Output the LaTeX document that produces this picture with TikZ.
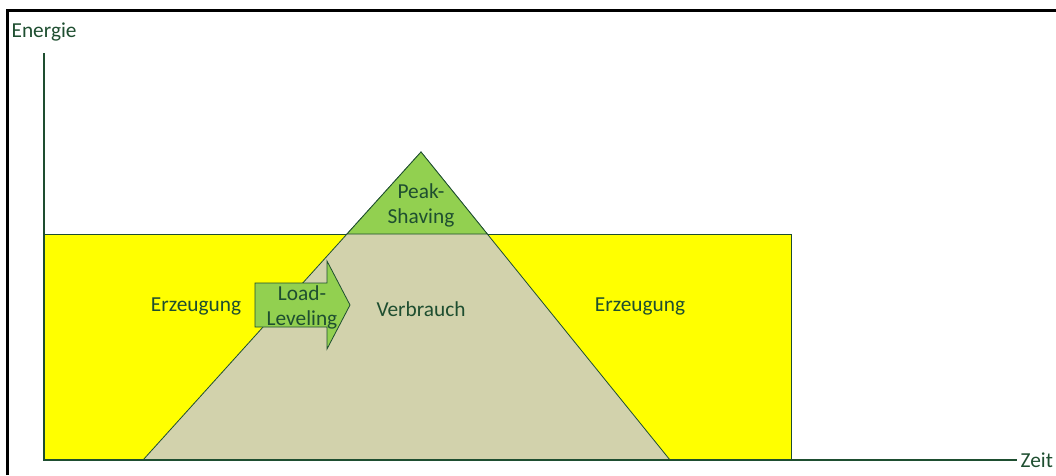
\documentclass[tikz,border=0pt]{standalone}
\usepackage{fontspec}
\setmainfont{Carlito}
\usetikzlibrary{positioning}
\definecolor{dunkelgruen}{RGB}{30,78,48}
\definecolor{gelb}{RGB}{255,255,0}
\definecolor{hellgruen}{RGB}{146,208,80}
\definecolor{beige}{RGB}{210,210,172}
\tikzstyle{flaeche} = [draw=dunkelgruen, line width=0.6pt, line join=miter]
\tikzstyle{achse} = [draw=dunkelgruen, line width=0.8pt]
\tikzstyle{beschriftung} = [text=dunkelgruen, font=\fontsize{16}{18.75}\selectfont, align=center, inner sep=1pt]

\begin{document}
\begin{tikzpicture}[x=0.75pt, y=-0.75pt]
        \useasboundingbox (0,0) rectangle (1056,475);
        % Rahmen
        \draw [line width=2pt, black] (7.5,475) -- (7.5,10.5) -- (1056,10.5);
        % Punkte
        \coordinate (ursprung) at (44,460);
        \coordinate (yende) at (44,53);
        \coordinate (xende) at (1017,460);
        \coordinate (links) at (143,460);
        \coordinate (spitze) at (421,152);
        \coordinate (rechts) at (670,460);
        \coordinate (kappel) at (347,234);
        \coordinate (kapper) at (487.3,234);
        % Erzeugung
        \filldraw [flaeche, fill=gelb] (ursprung) rectangle (791,234);
        % Verbrauch
        \filldraw [flaeche, fill=beige] (links) -- (spitze) -- (rechts) -- cycle;
        \filldraw [flaeche, fill=hellgruen] (kappel) -- (spitze) -- (kapper) -- cycle;
        % Load-Leveling Pfeil
        \filldraw [flaeche, fill=hellgruen] (255,283) -- (327,283) -- (327,261) -- (350,305)
                -- (327,349) -- (327,327) -- (255,327) -- cycle;
        % Achsen
        \draw [achse] (yende) -- (ursprung) -- (xende);
        \node (energie) [beschriftung, anchor=west] at (10,32) {Energie};
        \node (zeit) [beschriftung, anchor=west] at (1019,460) {Zeit};
        \node (erz1) [beschriftung] at (196,306) {Erzeugung};
        \node (erz2) [beschriftung] at (640,306) {Erzeugung};
        \node (verbrauch) [beschriftung] at (421,309) {Verbrauch};
        \node (peak) [beschriftung] at (421,205) {Peak-\\Shaving};
        \node (load) [beschriftung] at (302,307) {Load-\\Leveling};
\end{tikzpicture}
\end{document}
